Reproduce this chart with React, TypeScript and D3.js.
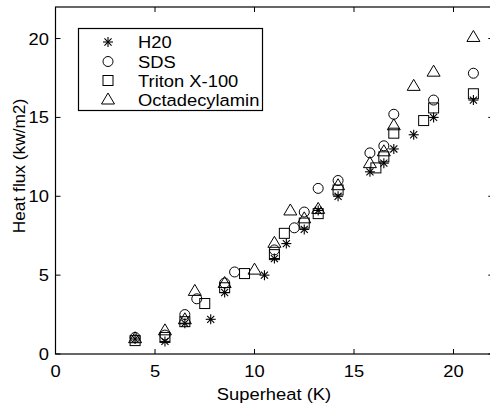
import React from "react";
import * as d3 from "d3";

const h2oX = [4, 5.5, 6.5, 7.8, 8.5, 10.5, 11, 11.6, 12.5, 13.2, 14.2, 15.8, 16.5, 17, 18, 19, 21];
const h2oY = [0.95, 0.8, 1.95, 2.2, 3.9, 5.0, 6.05, 7.0, 7.9, 9.1, 10.0, 11.55, 12.1, 13.0, 13.9, 15.0, 16.1];
const sdsX = [4, 5.5, 6.5, 7.1, 8.5, 9, 11, 12, 12.5, 13.2, 14.2, 15.8, 16.5, 17, 19, 21];
const sdsY = [1.05, 1.2, 2.5, 3.5, 4.5, 5.2, 6.6, 8.0, 9.0, 10.5, 11.0, 12.75, 13.2, 15.2, 16.1, 17.8];
const tritonX = [4, 5.5, 6.5, 7.5, 8.5, 9.5, 11, 11.5, 12.5, 13.2, 14.2, 16.1, 16.5, 17, 18.5, 19, 21];
const tritonY = [0.85, 1.05, 2.05, 3.2, 4.2, 5.1, 6.3, 7.65, 8.3, 8.9, 10.4, 11.8, 12.5, 14.0, 14.8, 15.6, 16.5];
const octaX = [4, 5.5, 6.5, 7, 8.5, 10, 11, 11.8, 12.5, 13.2, 14.2, 15.8, 16.5, 17, 18, 19, 21];
const octaY = [1.0, 1.5, 2.2, 4.0, 4.5, 5.35, 7.05, 9.1, 8.6, 9.2, 10.7, 12.1, 12.85, 14.5, 17.0, 17.9, 20.1];

const xTicks = [0, 5, 10, 15, 20];
const yTicks = [0, 5, 10, 15, 20];
const seriesNames = ["H20", "SDS", "Triton X-100", "Octadecylamin"];
const seriesMarkers = ["asterisk", "circle", "square", "triangle"];

const W = 490, H = 406;
const left = 55.5, top = 7, bottom = 354;
const x = d3.scaleLinear().domain([0, 22]).range([left, left + 22 * 19.9]);
const y = d3.scaleLinear().domain([0, 22]).range([bottom, top]);

const FS = 17;
const SX = 1.08;

function T({
  x: tx,
  y: ty,
  anchor = "start",
  children,
}: {
  x: number;
  y: number;
  anchor?: string;
  children: React.ReactNode;
}) {
  return (
    <text transform={`translate(${tx},${ty}) scale(${SX},1)`} textAnchor={anchor} fontSize={FS}>
      {children}
    </text>
  );
}

function Marker({ kind, cx, cy }: { kind: string; cx: number; cy: number }) {
  const s = "#000";
  if (kind === "circle") return <circle cx={cx} cy={cy} r={5} fill="none" stroke={s} strokeWidth={1} />;
  if (kind === "square") return <rect x={cx - 5} y={cy - 5} width={10} height={10} fill="none" stroke={s} strokeWidth={1} />;
  if (kind === "triangle")
    return (
      <path
        d={`M${cx},${cy - 6.5} L${cx + 6.5},${cy + 4.5} L${cx - 6.5},${cy + 4.5} Z`}
        fill="none"
        stroke={s}
        strokeWidth={1}
      />
    );
  const r = 5;
  const lines = [0, 45, 90, 135].map((a) => {
    const rad = (a * Math.PI) / 180;
    return (
      <line
        key={a}
        x1={cx - r * Math.cos(rad)}
        y1={cy - r * Math.sin(rad)}
        x2={cx + r * Math.cos(rad)}
        y2={cy + r * Math.sin(rad)}
        stroke={s}
        strokeWidth={1.1}
      />
    );
  });
  return <g>{lines}</g>;
}

export default function App() {
  const series = [
    { xs: h2oX, ys: h2oY, m: seriesMarkers[0] },
    { xs: sdsX, ys: sdsY, m: seriesMarkers[1] },
    { xs: tritonX, ys: tritonY, m: seriesMarkers[2] },
    { xs: octaX, ys: octaY, m: seriesMarkers[3] },
  ];
  const right = x(22);
  const font = "Liberation Sans, Arial, Helvetica, sans-serif";
  const legendRows = [42, 61.5, 80.5, 99.5];
  return (
    <svg
      width={W}
      height={H}
      style={{ position: "absolute", left: 0, top: 0, background: "#fff" }}
      fontFamily={font}
    >
      <rect x={0} y={0} width={W} height={H} fill="#fff" />
      <rect x={left} y={top} width={right - left} height={bottom - top} fill="none" stroke="#000" strokeWidth={1.2} />
      {xTicks.map((t) => (
        <g key={"xt" + t}>
          <line x1={x(t)} x2={x(t)} y1={bottom} y2={bottom - 5} stroke="#000" />
          <line x1={x(t)} x2={x(t)} y1={top} y2={top + 5} stroke="#000" />
          <T x={x(t)} y={377} anchor="middle">
            {t}
          </T>
        </g>
      ))}
      {yTicks.map((t) => (
        <g key={"yt" + t}>
          <line x1={left} x2={left + 5} y1={y(t)} y2={y(t)} stroke="#000" />
          <line x1={right} x2={right - 5} y1={y(t)} y2={y(t)} stroke="#000" />
          <T x={49} y={y(t) + 6} anchor="end">
            {t}
          </T>
        </g>
      ))}
      <T x={274} y={400} anchor="middle">
        Superheat (K)
      </T>
      <text transform={`translate(25,166) rotate(-90)`} textAnchor="middle" fontSize={17.3}>
        Heat flux (kw/m2)
      </text>
      {series.map((sr, i) => (
        <g key={"s" + i}>
          {sr.xs.map((v, j) => (
            <Marker key={j} kind={sr.m} cx={x(v)} cy={y(sr.ys[j])} />
          ))}
        </g>
      ))}
      <rect x={78.5} y={28.5} width={184} height={82} fill="#fff" stroke="#000" strokeWidth={1.2} />
      {seriesNames.map((n, i) => (
        <g key={"l" + i}>
          <Marker kind={seriesMarkers[i]} cx={108} cy={legendRows[i]} />
          <T x={138} y={legendRows[i] + 6}>
            {n}
          </T>
        </g>
      ))}
    </svg>
  );
}
